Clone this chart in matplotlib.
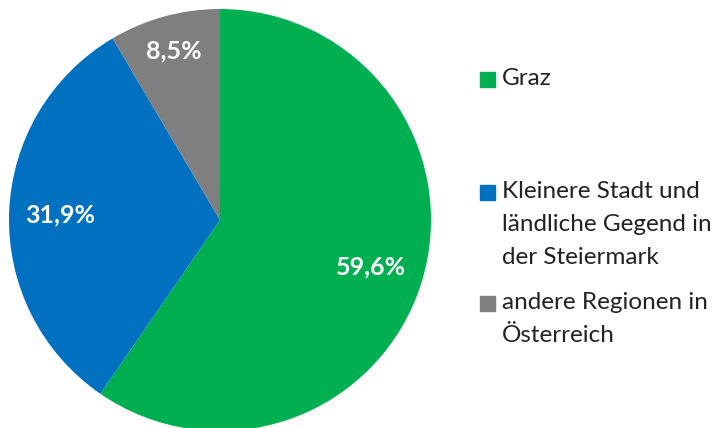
import matplotlib.pyplot as plt
from matplotlib.patches import Rectangle
import numpy as np

categories = ['Graz',
              'Kleinere Stadt und\nländliche Gegend in\nder Steiermark',
              'andere Regionen in\nÖsterreich']
values = [59.6, 31.9, 8.5]
labels = ['59,6%', '31,9%', '8,5%']
colors = ['#00B050', '#0070C0', '#7F7F7F']

plt.rcParams['font.family'] = ['Lato', 'DejaVu Sans']

W, H = 723, 428
fig = plt.figure(figsize=(W/100, H/100), dpi=100)

# pie: centre (220,220) px from top-left, radius 211 px
cx, cy, r = 220, 220, 211
ax = fig.add_axes([(cx-r)/W, (H-cy-r)/H, 2*r/W, 2*r/H])
wedges, _ = ax.pie(values, colors=colors, startangle=90, counterclock=False,
                   radius=1, wedgeprops=dict(linewidth=0))
ax.set_xlim(-1, 1)
ax.set_ylim(-1, 1)
ax.set_aspect('equal')
ax.axis('off')

# label distance from centre (fraction of radius), like Excel best fit
dists = [0.75, 0.76, 0.83]
for w, lab, d in zip(wedges, labels, dists):
    ang = np.deg2rad((w.theta1 + w.theta2) / 2)
    ax.text(d*np.cos(ang), d*np.sin(ang), lab, ha='center', va='center',
            color='white', fontsize=18, fontweight='bold')

# legend drawn by hand
lx = 480
ys = [79, 192, 303]
for cat, col, y in zip(categories, colors, ys):
    fig.patches.append(Rectangle((lx/W, 1-(y+7.5)/H), 15/W, 15/H,
                                 color=col, transform=fig.transFigure))
    fig.text(502/W, 1-(y-11)/H, cat, ha='left', va='top', fontsize=17.5,
             color='#222222', linespacing=1.72)

fig.savefig('out.png', dpi=100)
